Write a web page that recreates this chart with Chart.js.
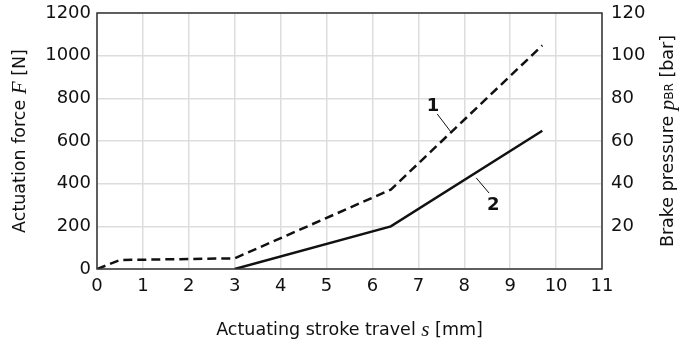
<!DOCTYPE html>
<html>
<head>
<meta charset="utf-8">
<script src="https://cdn.jsdelivr.net/npm/chart.js@4/dist/chart.umd.min.js"></script>
<style>
  html, body { margin: 0; padding: 0; background: #fff; }
  #wrap { width: 681px; height: 346px; }
</style>
</head>
<body>
<div id="wrap"><canvas id="chart"></canvas></div>
<script>
// curve 1 (dashed) and curve 2 (solid), stroke in mm vs force in N
const stroke1 = [0, 0.5, 3, 6.4, 9.7];
const force1 = [0, 42, 50, 372, 1048];
const stroke2 = [3, 6.4, 9.7];
const force2 = [0, 200, 648];

const xTicks = [0, 1, 2, 3, 4, 5, 6, 7, 8, 9, 10, 11];
const forceTicks = [0, 200, 400, 600, 800, 1000, 1200];
const pressureTicks = [20, 40, 60, 80, 100, 120];

// curve labels: [text, labelX, labelY, leaderFromX, leaderFromY, leaderToX, leaderToY]
const curveLabels = [
  ['1', 7.32, 764, 7.41, 727, 7.71, 642],
  ['2', 8.63, 300, 8.26, 427, 8.54, 356]
];

const FONT = 'DejaVu Sans';
const ink = '#111';

// frame, axis titles (with italic symbols) and curve labels
const extras = {
  id: 'extras',
  afterDraw(chart) {
    const c = chart.ctx;
    const a = chart.chartArea;
    const xs = chart.scales.x, ys = chart.scales.y;
    c.save();
    c.strokeStyle = '#333';
    c.lineWidth = 1.5;
    c.strokeRect(a.left, a.top, a.right - a.left, a.bottom - a.top);

    // curve labels
    c.fillStyle = ink;
    c.strokeStyle = ink;
    c.lineWidth = 1;
    curveLabels.forEach(l => {
      c.font = 'bold 18px ' + FONT;
      c.textAlign = 'center';
      c.textBaseline = 'middle';
      c.fillText(l[0], xs.getPixelForValue(l[1]), ys.getPixelForValue(l[2]));
      c.beginPath();
      c.moveTo(xs.getPixelForValue(l[3]), ys.getPixelForValue(l[4]));
      c.lineTo(xs.getPixelForValue(l[5]), ys.getPixelForValue(l[6]));
      c.stroke();
    });

    // helper: draw a run of parts left to right
    function runs(parts, x, y) {
      let w = 0;
      parts.forEach(p => { c.font = p.f; w += c.measureText(p.t).width; });
      let cx = x - w / 2;
      c.textAlign = 'left';
      parts.forEach(p => {
        c.font = p.f;
        c.fillText(p.t, cx, y + (p.dy || 0));
        cx += c.measureText(p.t).width;
      });
    }
    const reg = '17.5px ' + FONT;
    const it = 'italic 21px "Liberation Serif"';
    const sub = '12px ' + FONT;
    c.fillStyle = ink;
    c.textBaseline = 'middle';

    runs([{t: 'Actuating stroke travel ', f: reg}, {t: 's', f: it}, {t: ' [mm]', f: reg}],
      (a.left + a.right) / 2, 330);

    c.save();
    c.translate(20, (a.top + a.bottom) / 2);
    c.rotate(-Math.PI / 2);
    runs([{t: 'Actuation force ', f: reg}, {t: 'F', f: it}, {t: ' [N]', f: reg}], 0, 0);
    c.restore();

    c.save();
    c.translate(668, (a.top + a.bottom) / 2);
    c.rotate(-Math.PI / 2);
    runs([{t: 'Brake pressure ', f: reg}, {t: 'p', f: it}, {t: 'BR', f: sub, dy: 2}, {t: ' [bar]', f: reg}], 0, 0);
    c.restore();
    c.restore();
  }
};

const plain = v => String(v);

new Chart(document.getElementById('chart'), {
  type: 'scatter',
  data: {
    datasets: [
      {
        data: stroke1.map((s, i) => ({x: s, y: force1[i]})),
        showLine: true,
        borderColor: ink,
        borderWidth: 2.5,
        borderDash: [9, 5],
        pointRadius: 0,
        yAxisID: 'y'
      },
      {
        data: stroke2.map((s, i) => ({x: s, y: force2[i]})),
        showLine: true,
        borderColor: ink,
        borderWidth: 2.5,
        pointRadius: 0,
        yAxisID: 'y'
      }
    ]
  },
  options: {
    responsive: true,
    maintainAspectRatio: false,
    animation: false,
    layout: { padding: { top: 13, bottom: 0, left: 0, right: 0 } },
    plugins: { legend: { display: false }, tooltip: { enabled: false } },
    scales: {
      x: {
        type: 'linear',
        min: 0, max: 11,
        afterBuildTicks: s => { s.ticks = xTicks.map(v => ({value: v})); },
        ticks: { color: ink, font: { family: FONT, size: 18 }, padding: 7, callback: plain },
        grid: { color: '#ddd', lineWidth: 1.5, drawTicks: false },
        border: { display: false },
        afterFit: s => { s.height = 77; s.paddingLeft = 0; s.paddingRight = 0; }
      },
      y: {
        position: 'left',
        min: 0, max: 1200,
        afterBuildTicks: s => { s.ticks = forceTicks.map(v => ({value: v})); },
        ticks: { color: ink, font: { family: FONT, size: 18 }, padding: 6, callback: plain },
        grid: { color: '#ddd', lineWidth: 1.5, drawTicks: false },
        border: { display: false },
        afterFit: s => { s.width = 97; s.paddingTop = 0; s.paddingBottom = 0; }
      },
      y2: {
        position: 'right',
        min: 0, max: 120,
        afterBuildTicks: s => { s.ticks = pressureTicks.map(v => ({value: v})); },
        ticks: { color: ink, font: { family: FONT, size: 18 }, padding: 9, callback: plain },
        grid: { drawOnChartArea: false, drawTicks: false },
        border: { display: false },
        afterFit: s => { s.width = 79; s.paddingTop = 0; s.paddingBottom = 0; }
      }
    }
  },
  plugins: [extras]
});
</script>
</body>
</html>
